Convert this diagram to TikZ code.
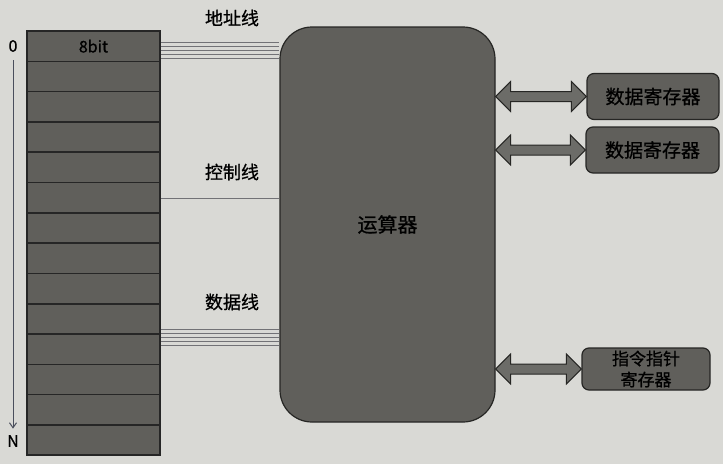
\documentclass[tikz,border=0pt]{standalone}
\usepackage{fontspec}
\setmainfont{Noto Sans CJK SC}[FakeBold=0.8]
\usepackage{tikz}
\usetikzlibrary{arrows.meta,positioning,calc}
\definecolor{bgrey}{HTML}{D9D9D5}
\definecolor{cgrey}{HTML}{605F5B}
\definecolor{dgrey}{HTML}{262624}
\definecolor{wgrey}{HTML}{727276}
\definecolor{agrey}{HTML}{6C6C68}
\definecolor{igrey}{HTML}{4A4E5C}

% fat two-way arrow between two points
\newcommand\busarrow[2]{%
  \draw[bus] (#1) -- ($(#1)+(15,15)$) -- ($(#1)+(15,5)$) -- ($(#2)+(-15,5)$)
    -- ($(#2)+(-15,15)$) -- (#2) -- ($(#2)+(-15,-15)$) -- ($(#2)+(-15,-5)$)
    -- ($(#1)+(15,-5)$) -- ($(#1)+(15,-15)$) -- cycle;}

\begin{document}
\begin{tikzpicture}[x=1pt,y=-1pt,
  every node/.style={font=\fontsize{18}{22}\selectfont,text=black},
  cell/.style={draw=black!85,fill=cgrey,line width=1.6pt,minimum width=133pt,
    minimum height=30.3pt,inner sep=0pt,font=\fontsize{16}{18}\selectfont},
  alu/.style={draw=dgrey,fill=cgrey,line width=1.2pt,rounded corners=32pt,
    minimum width=215pt,minimum height=395pt,font=\fontsize{20}{24}\selectfont},
  reg/.style={draw=dgrey,fill=cgrey,line width=1.2pt,rounded corners=7pt,
    minimum width=132pt,minimum height=46pt,inner sep=0pt,align=center,
    font=\fontsize{19}{22}\selectfont},
  wire/.style={draw=wgrey,line width=0.9pt},
  bus/.style={draw=dgrey,fill=agrey,line width=1pt,line join=miter}]
  \path[use as bounding box,fill=bgrey] (0,0) rectangle (723,464);

  % memory column
  \node[cell] (m0) at (93.5,46.15) {8bit};
  \foreach \i in {1,...,13}
    \node[cell] (m\i) at (93.5,{46.15+30.3*\i}) {};
  \node[font=\fontsize{16}{18}\selectfont] (zero) at (13,46) {0};
  \node[font=\fontsize{16}{18}\selectfont] (nend) at (13,441) {N};
  \draw[igrey,line width=1pt,-{Straight Barb[length=5pt,width=7pt]},
    shorten <=5pt,shorten >=3pt] (zero.south) -- (nend.north);

  % alu and registers
  \node[alu] (alu) at (387.5,224.5) {运算器};
  \node[reg] (dr1) at (653,96.5) {数据寄存器};
  \node[reg,minimum width=133pt] (dr2) at (652.5,150) {数据寄存器};
  \node[reg,minimum width=128pt,minimum height=42pt,
    font=\fontsize{17}{21}\selectfont] (ip) at (646,369) {指令指针\\寄存器};

  % buses
  \foreach \d in {4,0,-4,-8,-12}
    \draw[wire] ([yshift=\d pt]m0.east) coordinate (s) -- (s -| alu.west);
  \draw[wire] ([yshift=-1pt]m5.east) coordinate (s) -- (s -| alu.west);
  \foreach \d in {4,0,-4,-8,-12}
    \draw[wire] ([yshift=\d pt]m10.north east) coordinate (s) -- (s -| alu.west);
  \node (addr) at (232,18) {地址线};
  \node (ctrl) at (232,172) {控制线};
  \node (data) at (232,302) {数据线};

  \coordinate (a1) at (alu.east |- dr1.west);
  \coordinate (a2) at (alu.east |- dr2.west);
  \coordinate (a3) at (alu.east |- ip.west);
  \busarrow{a1}{dr1.west}
  \busarrow{a2}{dr2.west}
  \busarrow{a3}{ip.west}
\end{tikzpicture}
\end{document}
